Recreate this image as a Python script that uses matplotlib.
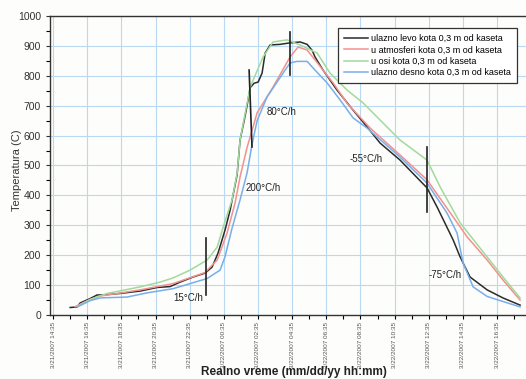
import matplotlib
matplotlib.use('Agg')
import matplotlib.pyplot as plt
from matplotlib.ticker import MultipleLocator

plt.rcParams['font.family'] = ['Liberation Sans', 'DejaVu Sans']

# --- Data (hours after 3/21/2007 14:35, temperature in C) ---
levo_h = [1.00, 1.41, 1.58, 2.17, 2.58, 2.93, 3.92, 5.10, 6.09, 6.85, 7.44, 8.20,
          8.90, 9.31, 9.66, 10.07, 10.37, 10.78, 10.95, 11.19, 11.36, 11.54, 11.77,
          12.01, 12.24, 12.42, 12.71, 13.29, 13.88, 14.47, 14.88, 15.17, 15.34,
          15.81, 16.63, 17.57, 18.39, 19.15, 20.32, 21.90, 22.49, 23.43, 23.84,
          24.42, 25.42, 26.35, 27.35]
levo_t = [25, 27, 40, 55, 67, 67, 72, 80, 92, 95, 110, 127,
          140, 160, 207, 284, 351, 470, 585, 650, 700, 760, 775,
          779, 809, 876, 903, 905, 910, 913, 905, 885, 863,
          819, 752, 685, 629, 575, 518, 425, 361, 251, 194,
          127, 84, 57, 33]

atm_h = [1.29, 2.17, 2.75, 5.10, 7.03, 8.90, 9.61, 10.19, 10.66, 10.95, 11.36,
         11.95, 12.88, 13.88, 14.35, 14.88, 15.34, 16.40, 17.22, 18.57, 20.32,
         21.90, 23.43, 24.25, 25.42, 26.35, 27.35]
atm_t = [28, 52, 63, 84, 105, 142, 184, 274, 375, 462, 560,
         676, 762, 863, 896, 886, 853, 776, 708, 625, 535,
         452, 328, 261, 184, 117, 50]

osa_h = [1.41, 2.17, 3.16, 5.10, 6.27, 7.03, 8.02, 9.02, 9.61, 9.96, 10.48, 10.78,
         10.95, 11.54, 12.30, 12.88, 13.70, 14.47, 15.46, 16.22, 17.22, 18.16,
         19.15, 20.32, 21.90, 22.67, 23.84, 25.42, 26.35, 27.35]
osa_t = [28, 52, 72, 94, 110, 124, 150, 184, 227, 294, 385, 475,
         585, 762, 863, 913, 920, 903, 876, 809, 752, 709,
         652, 585, 518, 428, 308, 194, 127, 57]

desno_h = [1.46, 2.17, 2.75, 4.33, 5.51, 7.03, 9.02, 9.78, 10.07, 10.48, 10.95,
           11.36, 11.65, 11.95, 12.53, 13.47, 13.88, 14.29, 14.88, 15.34, 16.05,
           16.81, 17.57, 18.39, 20.32, 21.90, 23.07, 23.66, 24.01, 24.60, 25.42,
           26.35, 27.35]
desno_t = [28, 48, 57, 60, 74, 88, 122, 150, 195, 290, 385,
           475, 570, 650, 729, 809, 843, 848, 848, 819, 776,
           719, 659, 625, 528, 441, 341, 274, 174, 94, 62,
           45, 27]

series_labels = ['ulazno levo kota 0,3 m od kaseta',
                 'u atmosferi kota 0,3 m od kaseta',
                 'u osi kota 0,3 m od kaseta',
                 'ulazno desno kota 0,3 m od kaseta']

tick_labels = ['3/21/2007 14:35', '3/21/2007 16:35', '3/21/2007 18:35',
               '3/21/2007 20:35', '3/21/2007 22:35', '3/22/2007 00:35',
               '3/22/2007 02:35', '3/22/2007 04:35', '3/22/2007 06:35',
               '3/22/2007 08:35', '3/22/2007 10:35', '3/22/2007 12:35',
               '3/22/2007 14:35', '3/22/2007 16:35']

# rate markers: (x_top, x_bottom, t_low, t_high)
rate_bars = [(8.96, 8.96, 67, 258), (11.48, 11.65, 562, 819),
             (13.88, 13.88, 803, 946), (21.90, 21.90, 344, 562)]
rate_texts = [(7.91, 57, '15°C/h'), (12.30, 425, '200°C/h'),
              (13.41, 679, '80°C/h'), (18.33, 522, '-55°C/h'),
              (22.96, 134, '-75°C/h')]

# --- Figure ---
fig = plt.figure(figsize=(5.26, 3.79), dpi=100, facecolor='#fdfdfb')
ax = fig.add_axes([0.0951, 0.1689, 0.905, 0.789])
ax.set_facecolor('#fdfdfb')

colors = ['#2b2b2b', '#f2918d', '#a2d99c', '#78aeea']
for (h, t), lab, c in zip([(levo_h, levo_t), (atm_h, atm_t), (osa_h, osa_t),
                           (desno_h, desno_t)], series_labels, colors):
    ax.plot(h, t, color=c, lw=1.1, label=lab)

for x0, x1, lo, hi in rate_bars:
    ax.plot([x1, x0], [lo, hi], color='#222222', lw=1.2)
for x, y, s in rate_texts:
    ax.text(x, y, s, ha='center', va='center', fontsize=7, color='#222222')

ax.set_xlim(-0.18, 27.7)
ax.set_ylim(0, 1000)
ax.xaxis.set_major_locator(MultipleLocator(2))
ax.xaxis.set_minor_locator(MultipleLocator(1))
ax.yaxis.set_major_locator(MultipleLocator(100))
ax.yaxis.set_minor_locator(MultipleLocator(50))
ax.set_xticks(range(0, 28, 2))
ax.set_xticklabels(tick_labels, rotation=90, fontsize=4.6, color='#555555')
ax.tick_params(axis='y', labelsize=7.5, colors='#333333')
ax.tick_params(which='both', direction='out', length=3, width=0.8)
ax.tick_params(axis='x', pad=2)

ax.grid(True, which='major', color='#b9d9f3', lw=0.8)
ax.set_axisbelow(True)
ax.spines['right'].set_visible(False)
for s in ['left', 'bottom', 'top']:
    ax.spines[s].set_color('#333333')
    ax.spines[s].set_linewidth(1.0)

ax.set_ylabel('Temperatura (C)', fontsize=8, color='#333333')
ax.yaxis.set_label_coords(-0.059, 0.485)
ax.set_xlabel('Realno vreme (mm/dd/yy hh:mm)', fontsize=8.5, fontweight='bold',
              color='#222222')
ax.xaxis.set_label_coords(0.513, -0.17)

leg = ax.legend(loc='upper right', bbox_to_anchor=(0.99, 0.975), fontsize=6.5,
                fancybox=False, edgecolor='#333333', framealpha=1,
                handlelength=2.6, handletextpad=0.3, labelspacing=0.25,
                borderpad=0.7)
leg.get_frame().set_linewidth(0.9)

fig.savefig('out.png', dpi=100, facecolor=fig.get_facecolor())
